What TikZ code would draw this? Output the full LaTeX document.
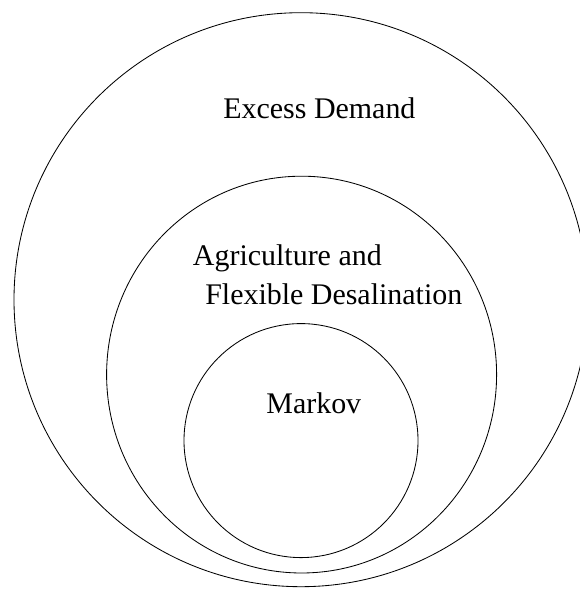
\documentclass[tikz,border=0pt]{standalone}
\usepackage{fontspec}
\setmainfont{Liberation Serif}
\usetikzlibrary{positioning}
\tikzset{
  ring/.style={draw=black,line width=0.6pt},
  lbl/.style={font=\fontsize{21.3}{27.7}\selectfont,inner sep=0pt,anchor=base west}
}
\begin{document}
\begin{tikzpicture}[x=1cm,y=1cm]
  \useasboundingbox (0,0) rectangle (14.5,14.725);
  % nested sets
  \draw[ring] (7.525,7.2325) circle (7.175);
  \draw[ring] (7.54,5.36) ellipse (4.875 and 4.96);
  \draw[ring] (7.525,3.71) circle (2.925);

  % labels
  \node[lbl,anchor=base] (excess) at (7.985,11.7675) {Excess Demand};
  \node[lbl] (agri) at (4.8175,8.075) {Agriculture and};
  \node[lbl] (flex) at ([xshift=0.3075cm,yshift=-0.975cm]agri.base west) {Flexible Desalination};
  \node[lbl,anchor=base] (markov) at (7.845,4.3925) {Markov};
\end{tikzpicture}
\end{document}
